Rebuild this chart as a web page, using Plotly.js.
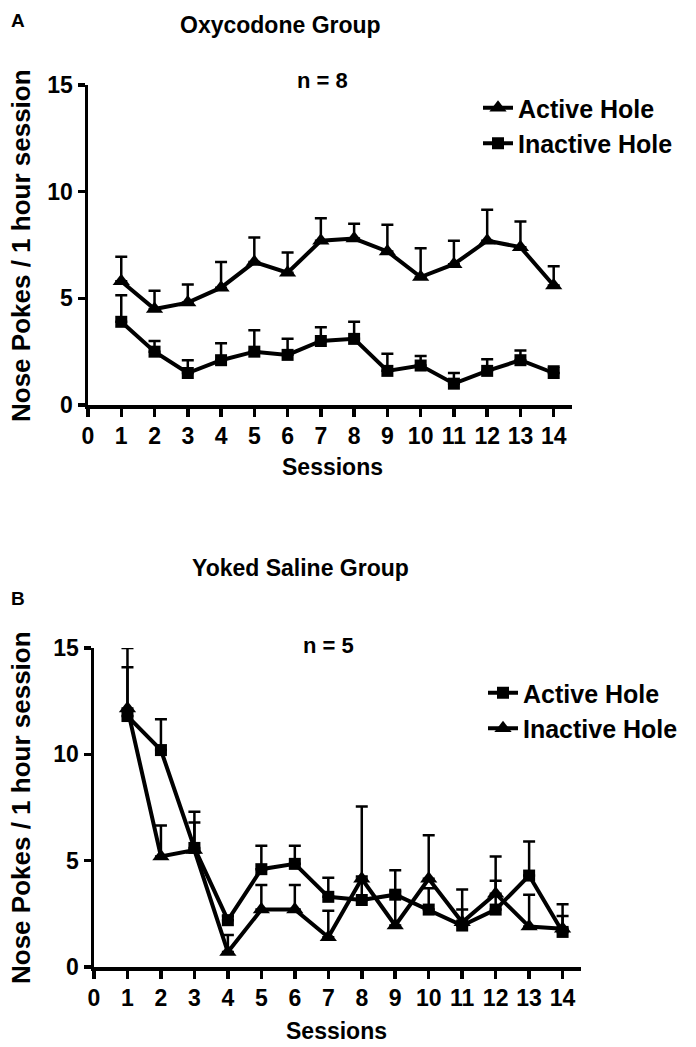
<!DOCTYPE html>
<html>
<head>
<meta charset="utf-8">
<script src="https://cdn.plot.ly/plotly-3.0.1.min.js"></script>
<style>html,body{margin:0;padding:0;background:#fff;}#chart{width:696px;height:1047px;}</style>
</head>
<body>
<div id="chart"></div>
<script>
// ---- data ----
const sessions = [1,2,3,4,5,6,7,8,9,10,11,12,13,14];
const xTickVals = [0,1,2,3,4,5,6,7,8,9,10,11,12,13,14];
const xTickText = ["0","1","2","3","4","5","6","7","8","9","10","11","12","13","14"];
const yTickVals = [0,5,10,15];

// Panel A: Oxycodone group (n = 8)
const oxyActive      = [5.8,4.5,4.8,5.5,6.7,6.2,7.7,7.8,7.2,6.0,6.6,7.7,7.4,5.6];
const oxyActiveSem   = [1.15,0.85,0.85,1.2,1.15,0.95,1.05,0.7,1.25,1.35,1.1,1.45,1.2,0.9];
const oxyInactive    = [3.9,2.5,1.5,2.1,2.5,2.35,3.0,3.1,1.6,1.85,1.0,1.6,2.1,1.5];
const oxyInactiveSem = [1.25,0.5,0.6,0.8,1.0,0.75,0.65,0.8,0.8,0.45,0.5,0.55,0.45,0.3];

// Panel B: Yoked saline group (n = 5)
const salActive      = [11.8,10.2,5.6,2.2,4.6,4.85,3.3,3.15,3.4,2.7,1.95,2.7,4.3,1.65];
const salActiveSem   = [2.3,1.45,1.7,0.2,1.1,0.85,0.9,1.1,1.15,1.0,1.7,1.35,1.6,1.3];
const salInactive    = [12.15,5.2,5.5,0.7,2.7,2.7,1.4,4.15,1.95,4.15,2.1,3.45,1.9,1.8];
const salInactiveSem = [2.85,1.45,1.3,0.8,1.15,1.15,1.25,3.4,1.6,2.05,0.6,1.75,1.5,0.6];
const noLower        = [0,0,0,0,0,0,0,0,0,0,0,0,0,0];

// ---- style ----
const FONT = 'Liberation Sans, Arial, Helvetica, sans-serif';
const W = 696, H = 1047;
const px = v => v / W;
const py = v => 1 - v / H;

function trace(y, sem, symbol, size, name, xa, ya, leg) {
  return {
    x: sessions, y: y, name: name, type: 'scatter', mode: 'lines+markers',
    xaxis: xa, yaxis: ya, legend: leg,
    line: {color: '#000', width: 4},
    marker: {symbol: symbol, size: size, color: '#000'},
    error_y: {type: 'data', symmetric: false, array: sem, arrayminus: noLower,
              color: '#000', thickness: 2.5, width: 6},
    cliponaxis: false
  };
}

const data = [
  trace(oxyActive, oxyActiveSem, 'triangle-up', 15, 'Active Hole', 'x', 'y', 'legend'),
  trace(oxyInactive, oxyInactiveSem, 'square', 12, 'Inactive Hole', 'x', 'y', 'legend'),
  trace(salActive, salActiveSem, 'square', 12, 'Active Hole', 'x2', 'y2', 'legend2'),
  trace(salInactive, salInactiveSem, 'triangle-up', 15, 'Inactive Hole', 'x2', 'y2', 'legend2')
];

const tickFont = {family: FONT, size: 23, color: '#000', weight: 'bold'};

function xAxis(domain, anchor) {
  return {
    domain: domain, anchor: anchor, range: [0, 14.55],
    tickmode: 'array', tickvals: xTickVals, ticktext: xTickText,
    showline: true, linewidth: 3.5, linecolor: '#000',
    ticks: 'outside', ticklen: 8, tickwidth: 3.5, tickcolor: '#000',
    tickfont: tickFont,
    showgrid: false, zeroline: false, fixedrange: true
  };
}
function yAxis(domain, anchor) {
  return {
    domain: domain, anchor: anchor, range: [0, 15],
    tickmode: 'array', tickvals: yTickVals,
    showline: true, linewidth: 3.5, linecolor: '#000',
    ticks: 'outside', ticklen: 7, tickwidth: 3.5, tickcolor: '#000',
    tickfont: tickFont,
    showgrid: false, zeroline: false, fixedrange: true
  };
}

function ann(text, x, y, size, extra) {
  return Object.assign({
    text: text, xref: 'paper', yref: 'paper', x: px(x), y: py(y),
    xanchor: 'center', yanchor: 'middle', showarrow: false,
    font: {family: FONT, size: size, color: '#000', weight: 'bold'}
  }, extra || {});
}

const legendFont = {family: FONT, size: 25, color: '#000', weight: 'bold'};

const layout = {
  width: W, height: H,
  margin: {l: 0, r: 0, t: 0, b: 0},
  paper_bgcolor: '#fff', plot_bgcolor: '#fff',
  showlegend: true,
  xaxis: xAxis([px(88), px(572)], 'y'),
  yaxis: yAxis([py(405), py(85)], 'x'),
  xaxis2: xAxis([px(94), px(581)], 'y2'),
  yaxis2: yAxis([py(967), py(648)], 'x2'),
  legend: {x: px(478), y: py(85), xanchor: 'left', yanchor: 'top',
           bgcolor: 'rgba(0,0,0,0)', tracegroupgap: 0, font: legendFont},
  legend2: {x: px(483), y: py(670), xanchor: 'left', yanchor: 'top',
           bgcolor: 'rgba(0,0,0,0)', tracegroupgap: 0, font: legendFont},
  annotations: [
    ann('A', 18, 21, 19),
    ann('Oxycodone Group', 280, 25, 23),
    ann('n = 8', 322, 80, 22),
    ann('Nose Pokes / 1 hour session', 21, 246, 26, {textangle: -90}),
    ann('Sessions', 332, 467, 23),
    ann('B', 18, 598, 19),
    ann('Yoked Saline Group', 300, 568, 23),
    ann('n = 5', 328, 645, 22),
    ann('Nose Pokes / 1 hour session', 21, 808, 26, {textangle: -90}),
    ann('Sessions', 336, 1031, 23)
  ]
};

Plotly.newPlot('chart', data, layout, {displayModeBar: false, staticPlot: true});
</script>
</body>
</html>
